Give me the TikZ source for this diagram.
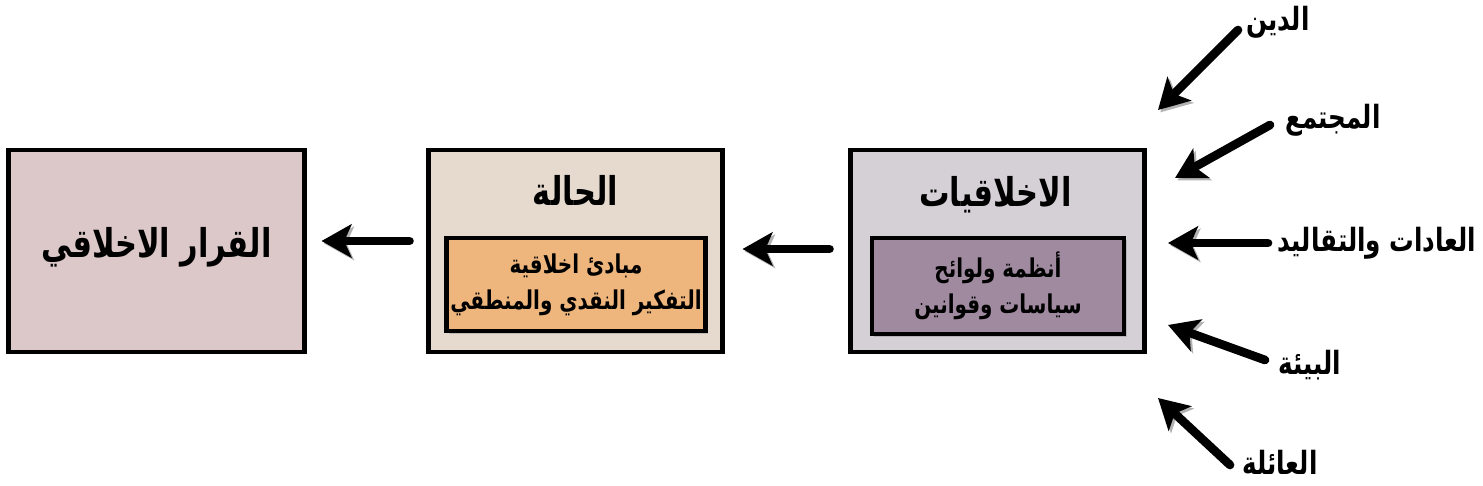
\documentclass[tikz,border=0pt]{standalone}
\usepackage{fontspec}
\usepackage{graphicx}
\newfontfamily\arabicfont[Script=Arabic]{DejaVu Sans}
\TeXXeTstate=1
\usetikzlibrary{arrows.meta,positioning,shadows}

\definecolor{decisionfill}{HTML}{DCC8C8}
\definecolor{statefill}{HTML}{E5DACD}
\definecolor{principlefill}{HTML}{EEB67C}
\definecolor{ethicsfill}{HTML}{D5D0D6}
\definecolor{rulesfill}{HTML}{A08AA0}

% tall arabic line
\newcommand{\arline}[1]{\scalebox{1}[1.3]{\beginR #1\endR}}

\tikzset{
	ethicspicture/.style = {
		x = 0.03cm,
		y = -0.03cm,
		arrow/.style = {
			draw,
			line width = 0.26cm,
			line cap = round,
			-{Stealth[length=0.9cm, width=1cm, inset=0.22cm]},
			preaction = {draw = black, opacity = 0.3, transform canvas = {xshift=2pt, yshift=-2pt}}
		}
	},
	outerbox/.style = {
		draw = black,
		line width = 4pt,
		minimum width = 8.8cm,
		minimum height = 6.06cm,
		drop shadow = {shadow xshift=2pt, shadow yshift=-2pt, opacity=0.35}
	},
	innerbox/.style = {
		draw = black,
		line width = 3.8pt,
		align = center,
		font = \arabicfont\bfseries\fontsize{17}{31}\selectfont,
		drop shadow = {shadow xshift=2pt, shadow yshift=-2pt, opacity=0.35}
	},
	title/.style = {
		font = \arabicfont\bfseries\fontsize{26}{30}\selectfont
	},
	factor/.style = {
		font = \arabicfont\bfseries\fontsize{21}{24}\selectfont
	}
}

\begin{document}
\begin{tikzpicture}[ethicspicture]
	\useasboundingbox (0,0) rectangle (1483,486);

	% main boxes
	\node[outerbox, fill = decisionfill, minimum width = 8.86cm] (decision) at (156.5,251) {};
	\node[outerbox, fill = statefill] (state) at (575.5,251) {};
	\node[outerbox, fill = ethicsfill] (ethics) at (997.5,251) {};

	\node[title] (decisiontitle) at (156.5,247) {\arline{القرار الاخلاقي}};
	\node[title] (statetitle) at (575.5,190) {\arline{الحالة}};
	\node[title] (ethicstitle) at (995.5,195) {\arline{الاخلاقيات}};

	\node[innerbox, fill = principlefill, minimum width = 7.75cm, minimum height = 2.8cm] (principles) at (576,284.5)
		{\arline{مبادئ اخلاقية}\\\arline{التفكير النقدي والمنطقي}};
	\node[innerbox, fill = rulesfill, minimum width = 7.57cm, minimum height = 2.89cm] (rules) at (998,286)
		{\arline{أنظمة ولوائح}\\\arline{سياسات وقوانين}};

	% influences
	\node[factor] (religion) at (1278,22) {\arline{الدين}};
	\node[factor] (society) at (1333,120) {\arline{المجتمع}};
	\node[factor] (customs) at (1377,243) {\arline{العادات والتقاليد}};
	\node[factor] (environment) at (1310,365) {\arline{البيئة}};
	\node[factor] (family) at (1280,462) {\arline{العائلة}};

	\coordinate (religiontip) at (1158,110);
	\coordinate (societytip) at (1175,178);
	\coordinate (customstip) at (1168,243);
	\coordinate (environmenttip) at (1168,325);
	\coordinate (familytip) at (1158,398);

	\begin{scope}
		\path[arrow, shorten <= 0.51cm, shorten >= 0.45cm]
			([yshift=0.3cm]state.west) -- ([yshift=0.3cm]decision.east);
		\path[arrow, shorten <= 0.57cm, shorten >= 0.54cm]
			([yshift=0.06cm]ethics.west) -- ([yshift=0.06cm]state.east);
		\path[arrow] (1238,30) -- (religiontip);
		\path[arrow] (1270,125) -- (societytip);
		\path[arrow] (1268,243) -- (customstip);
		\path[arrow] (1265,360) -- (environmenttip);
		\path[arrow] (1230,465) -- (familytip);
	\end{scope}
\end{tikzpicture}
\end{document}
